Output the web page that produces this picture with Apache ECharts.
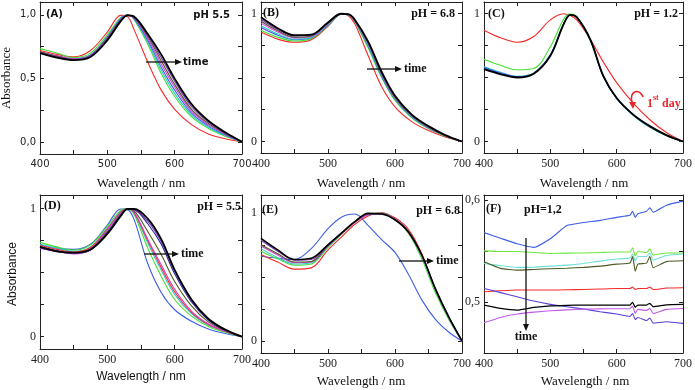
<!DOCTYPE html>
<html>
<head>
<meta charset="utf-8">
<script src="https://cdn.jsdelivr.net/npm/echarts@6/dist/echarts.min.js"></script>
<style>html,body{margin:0;padding:0;background:#fff}#main{width:695px;height:390px}</style>
</head>
<body>
<div id="main"></div>
<script>
// wavelengths (nm)
var wl  = [400,425,450,475,500,520,530,540,560,580,600,625,650,675,700];
var wlE = [400,425,450,475,500,520,540,560,580,600,620,640,660,680,700];
var wlF = [400,425,450,475,500,525,550,575,600,620,624,628,632,645,650,655,675,700];
var xLabels = [400,500,600,700];
var xTicks = [400,450,500,550,600,650,700];

// (A) pH 5.5
var aRed     = [0.72,0.69,0.67,0.72,0.865,0.995,0.985,0.88,0.63,0.41,0.26,0.14,0.067,0.03,0.005];
var aGreen   = [0.735,0.70,0.665,0.70,0.845,0.98,1.0,0.96,0.77,0.54,0.36,0.20,0.11,0.05,0.005];
var aCyan    = [0.70,0.675,0.655,0.685,0.83,0.975,0.998,0.965,0.785,0.565,0.385,0.215,0.12,0.055,0.005];
var aBlue    = [0.705,0.675,0.655,0.685,0.825,0.97,0.997,0.97,0.80,0.59,0.41,0.23,0.13,0.06,0.005];
var aMagenta = [0.71,0.68,0.655,0.68,0.82,0.965,0.996,0.975,0.815,0.615,0.435,0.245,0.14,0.065,0.005];
var aOlive   = [0.71,0.675,0.65,0.675,0.815,0.96,0.995,0.98,0.83,0.64,0.455,0.26,0.15,0.07,0.005];
var aPurple  = [0.705,0.67,0.65,0.675,0.81,0.955,0.995,0.982,0.84,0.665,0.48,0.28,0.16,0.075,0.005];
var aBlack   = [0.70,0.665,0.645,0.67,0.80,0.95,0.995,0.985,0.85,0.69,0.50,0.30,0.17,0.08,0.005];

// (B) pH 6.8
var bRed     = [0.855,0.80,0.775,0.795,0.90,0.997,0.985,0.92,0.67,0.43,0.27,0.155,0.085,0.035,0.0];
var bGreen   = [0.87,0.815,0.785,0.805,0.905,0.995,0.99,0.935,0.73,0.50,0.32,0.185,0.10,0.042,0.0];
var bBlue    = [0.89,0.83,0.795,0.81,0.91,0.995,0.99,0.94,0.745,0.51,0.33,0.19,0.105,0.044,0.0];
var bCyan    = [0.905,0.84,0.80,0.815,0.915,0.995,0.99,0.943,0.755,0.52,0.335,0.195,0.108,0.045,0.0];
var bMagenta = [0.925,0.855,0.81,0.82,0.92,0.995,0.992,0.946,0.765,0.525,0.34,0.2,0.11,0.046,0.0];
var bOlive   = [0.94,0.865,0.815,0.825,0.925,0.996,0.993,0.948,0.77,0.53,0.345,0.203,0.113,0.047,0.0];
var bPurple  = [0.955,0.875,0.825,0.83,0.93,0.997,0.994,0.95,0.775,0.535,0.35,0.207,0.116,0.048,0.0];
var bBlack   = [0.97,0.885,0.83,0.835,0.93,0.998,0.995,0.952,0.78,0.545,0.357,0.21,0.12,0.05,0.0];

// (C) pH 1.2
var cRed     = [0.87,0.81,0.775,0.82,0.95,0.998,0.985,0.95,0.80,0.62,0.46,0.30,0.17,0.07,0.0];
var cGreen   = [0.643,0.595,0.56,0.57,0.74,0.955,0.995,0.975,0.79,0.51,0.34,0.205,0.11,0.045,0.0];
var cCyan    = [0.585,0.54,0.51,0.535,0.68,0.92,0.99,0.972,0.795,0.505,0.335,0.205,0.112,0.046,0.0];
var cBlue    = [0.58,0.535,0.507,0.532,0.675,0.918,0.99,0.972,0.797,0.507,0.337,0.207,0.115,0.047,0.0];
var cNavy    = [0.57,0.53,0.503,0.53,0.67,0.916,0.99,0.971,0.80,0.51,0.34,0.21,0.118,0.048,0.0];
var cBlack   = [0.565,0.525,0.50,0.53,0.67,0.915,0.99,0.97,0.80,0.51,0.34,0.21,0.12,0.05,0.0];

// (D) pH 5.5
var dBlue    = [0.714,0.69,0.68,0.72,0.87,0.995,0.99,0.91,0.57,0.345,0.21,0.12,0.06,0.025,0.0];
var dGreen   = [0.735,0.70,0.675,0.715,0.86,0.985,0.998,0.95,0.69,0.47,0.29,0.16,0.08,0.035,0.0];
var dCyan    = [0.72,0.69,0.665,0.70,0.845,0.975,0.998,0.96,0.73,0.52,0.33,0.18,0.09,0.04,0.0];
var dRed     = [0.71,0.68,0.66,0.695,0.84,0.97,0.998,0.965,0.75,0.54,0.35,0.19,0.095,0.042,0.0];
var dMagenta = [0.69,0.665,0.645,0.685,0.835,0.965,0.998,0.97,0.76,0.56,0.37,0.20,0.10,0.045,0.0];
var dOlive   = [0.70,0.67,0.65,0.68,0.82,0.955,0.995,0.98,0.82,0.64,0.43,0.24,0.115,0.05,0.0];
var dNavy    = [0.70,0.67,0.65,0.675,0.81,0.95,0.995,0.99,0.88,0.72,0.49,0.27,0.13,0.052,0.0];
var dPurple  = [0.69,0.665,0.648,0.675,0.805,0.945,0.995,0.99,0.90,0.74,0.51,0.28,0.135,0.054,0.0];
var dBlack   = [0.70,0.665,0.655,0.68,0.80,0.94,0.995,0.995,0.92,0.76,0.52,0.29,0.14,0.055,0.0];

// (E) pH 6.8
var eBlue    = [0.66,0.645,0.635,0.72,0.875,0.965,0.99,0.90,0.79,0.69,0.52,0.32,0.17,0.07,0.0];
var eRed     = [0.675,0.615,0.56,0.57,0.71,0.81,0.91,0.975,1.0,0.96,0.87,0.68,0.40,0.18,0.0];
var eGreen   = [0.70,0.64,0.59,0.60,0.73,0.83,0.925,0.985,0.995,0.95,0.84,0.64,0.38,0.17,0.0];
var eCyan    = [0.72,0.65,0.60,0.61,0.735,0.835,0.925,0.985,0.995,0.95,0.85,0.66,0.40,0.18,0.0];
var eMagenta = [0.74,0.67,0.61,0.615,0.74,0.835,0.925,0.985,0.995,0.95,0.85,0.665,0.405,0.185,0.0];
var eOlive   = [0.75,0.68,0.615,0.62,0.745,0.84,0.93,0.99,0.995,0.945,0.85,0.67,0.41,0.19,0.0];
var ePurple  = [0.785,0.70,0.63,0.635,0.75,0.84,0.93,0.99,0.99,0.945,0.85,0.67,0.41,0.19,0.0];
var eBlack   = [0.80,0.71,0.635,0.645,0.75,0.84,0.93,0.995,0.99,0.945,0.85,0.67,0.41,0.19,0.0];

// (F) pH 1.2 (absolute absorbance)
var fBlue    = [0.568,0.5625,0.557,0.5535,0.562,0.575,0.578,0.580,0.583,0.585,0.589,0.583,0.5865,0.589,0.5925,0.588,0.595,0.599];
var fGreen   = [0.550,0.5495,0.5495,0.5485,0.5475,0.5478,0.548,0.5485,0.549,0.549,0.553,0.545,0.5495,0.5485,0.552,0.546,0.548,0.548];
var fCyan    = [0.5377,0.5355,0.5338,0.534,0.535,0.536,0.5377,0.540,0.542,0.543,0.547,0.540,0.5445,0.5445,0.548,0.541,0.5455,0.5469];
var fOlive   = [0.5393,0.5328,0.5311,0.5318,0.5325,0.533,0.5338,0.535,0.537,0.538,0.5445,0.530,0.537,0.538,0.5445,0.5335,0.5395,0.5403];
var fRed     = [0.5098,0.5108,0.5115,0.5115,0.5115,0.5118,0.512,0.5125,0.513,0.513,0.5145,0.512,0.513,0.513,0.5145,0.512,0.5135,0.5138];
var fNavy    = [0.5131,0.509,0.5049,0.5007,0.4974,0.4951,0.4928,0.4902,0.4879,0.4855,0.4885,0.4825,0.4845,0.4815,0.484,0.479,0.4803,0.4787];
var fBlack   = [0.4967,0.4934,0.4918,0.4944,0.496,0.4965,0.4967,0.4967,0.4967,0.4967,0.4995,0.4945,0.4967,0.4967,0.4985,0.495,0.497,0.4974];
var fMagenta = [0.4793,0.4846,0.4879,0.4898,0.4911,0.492,0.4928,0.493,0.4931,0.4931,0.4955,0.4885,0.4925,0.4915,0.4935,0.4885,0.4925,0.4934];

var C = {
  red:'#f42a2a', green:'#44e033', cyan:'#33c6c6', blue:'#3d5de6', magenta:'#d83ed8',
  olive:'#4d5a22', navy:'#26269a', purple:'#7a2fb8', black:'#000000',
  violet:'#5a3fd6', lilac:'#c25ae6', aqua:'#6ee0d8', lime:'#6ee83a'
};

var serif = '"Liberation Serif", "DejaVu Serif", serif';
var sans = '"DejaVu Sans", Verdana, sans-serif';
var comma = function (v) { return v.toFixed(1).replace('.', ','); };
var plain = function (v) { return String(Math.round(v)); };

var panels = [
  { box:[40,2,202,152], y:[-0.09,1.1], yl:[0,0.5,1], yt:[0,0.25,0.5,0.75,1], fmt:comma, font:sans, fs:10, bw:1.8,
    x:wl, lines:[[aRed,C.red],[aGreen,C.green],[aCyan,C.cyan],[aBlue,C.blue],[aMagenta,C.magenta],[aOlive,C.olive],[aPurple,C.purple],[aBlack,C.black]] },
  { box:[261,2,201,151], y:[-0.09,1.09], yl:[0,1], yt:[0,0.25,0.5,0.75,1], fmt:plain, font:serif, fs:12, bw:1.8,
    x:wl, lines:[[bRed,C.red],[bGreen,C.green],[bBlue,C.blue],[bCyan,C.cyan],[bMagenta,C.magenta],[bOlive,C.olive],[bPurple,C.purple],[bBlack,C.black]] },
  { box:[484,2,201,151], y:[-0.09,1.09], yl:[0,1], yt:[0,0.25,0.5,0.75,1], fmt:plain, font:serif, fs:12, bw:1.8,
    x:wl, lines:[[cRed,C.red],[cGreen,C.green],[cCyan,C.cyan],[cBlue,C.blue],[cNavy,C.navy],[cBlack,C.black]] },
  { box:[40,195,202,154], y:[-0.096,1.104], yl:[0,1], yt:[0,0.25,0.5,0.75,1], fmt:plain, font:serif, fs:12, bw:1.8,
    x:wl, lines:[[dBlue,C.blue],[dGreen,C.green],[dCyan,C.cyan],[dRed,C.red],[dMagenta,C.magenta],[dOlive,C.olive],[dNavy,C.navy],[dPurple,C.purple],[dBlack,C.black]] },
  { box:[261,195,201,158], y:[-0.094,1.138], yl:[0,1], yt:[0,0.25,0.5,0.75,1], fmt:plain, font:serif, fs:12, bw:1.6,
    x:wlE, lines:[[eBlue,C.blue],[eRed,C.red],[eGreen,C.green],[eCyan,C.cyan],[eMagenta,C.magenta],[eOlive,C.olive],[ePurple,C.purple],[eBlack,C.black]] },
  { box:[484,195,202,158], y:[0.4496,0.605], yl:[0.5,0.6], yt:[0.5,0.55,0.6], fmt:comma, font:serif, fs:12, bw:1.2,
    x:wlF, lines:[[fBlue,C.blue],[fGreen,C.lime],[fCyan,C.aqua],[fOlive,C.olive],[fRed,C.red],[fNavy,C.violet],[fBlack,C.black],[fMagenta,C.lilac]] }
];

var grid = [], xAxis = [], yAxis = [], series = [];
panels.forEach(function (p, gi) {
  grid.push({ left:p.box[0], top:p.box[1], width:p.box[2], height:p.box[3], show:false });
  var tick = { show:true, inside:true, length:4, lineStyle:{ color:'#222', width:1 } };
  var line = { show:true, onZero:false, lineStyle:{ color:'#222', width:1 } };
  var lab = { color:'#222', fontFamily:p.font, fontSize:p.fs };
  xAxis.push({ gridIndex:gi, type:'value', min:400, max:700, position:'bottom',
    axisLine:line, splitLine:{ show:false },
    axisTick:Object.assign({ customValues:xTicks }, tick),
    axisLabel:Object.assign({ customValues:xLabels, margin:5 }, lab) });
  xAxis.push({ gridIndex:gi, type:'value', min:400, max:700, position:'top',
    axisLine:line, splitLine:{ show:false }, axisLabel:{ show:false },
    axisTick:Object.assign({ customValues:xTicks }, tick) });
  yAxis.push({ gridIndex:gi, type:'value', min:p.y[0], max:p.y[1], position:'left',
    axisLine:line, splitLine:{ show:false },
    axisTick:Object.assign({ customValues:p.yt }, tick),
    axisLabel:Object.assign({ customValues:p.yl, margin:4, formatter:p.fmt }, lab) });
  yAxis.push({ gridIndex:gi, type:'value', min:p.y[0], max:p.y[1], position:'right',
    axisLine:line, splitLine:{ show:false }, axisLabel:{ show:false },
    axisTick:Object.assign({ customValues:p.yt }, tick) });
  p.lines.forEach(function (l, k) {
    var ys = l[0], col = l[1];
    series.push({
      type:'line', xAxisIndex:gi * 2, yAxisIndex:gi * 2,
      data:p.x.map(function (x, i) { return [x, ys[i]]; }),
      showSymbol:false, smooth:gi === 5 ? 0.15 : 0.35, silent:true,
      lineStyle:{ color:col, width:col === C.black ? p.bw : 1.1 },
      itemStyle:{ color:col }, z:2 + k
    });
  });
});

// annotations
function txt(x, y, s, font, opt) {
  opt = opt || {};
  return { type:'text', x:x, y:y, rotation:opt.rot || 0, z:100,
    style:{ text:s, font:font, fill:opt.fill || '#111', align:opt.align || 'left', verticalAlign:'middle' } };
}
function hArrow(x1, x2, y) {
  return [
    { type:'line', z:100, shape:{ x1:x1, y1:y, x2:x2 - 4, y2:y }, style:{ stroke:'#111', lineWidth:1.3 } },
    { type:'polygon', z:100, shape:{ points:[[x2, y], [x2 - 7, y - 3], [x2 - 7, y + 3]] }, style:{ fill:'#111' } }
  ];
}
var sb10 = 'bold 10px ' + sans, fb12 = 'bold 12px ' + serif;
var nameSerif = '13px ' + serif, nameSans = '12px "Liberation Sans", Arial, sans-serif';

var graphic = [
  txt(141, 184, 'Wavelength / nm', nameSerif, { align:'center' }),
  txt(361, 184, 'Wavelength / nm', nameSerif, { align:'center' }),
  txt(584, 184, 'Wavelength / nm', nameSerif, { align:'center' }),
  txt(141, 377, 'Wavelength / nm', nameSans, { align:'center' }),
  txt(361, 382, 'Wavelength / nm', nameSerif, { align:'center' }),
  txt(585, 382, 'Wavelength / nm', nameSerif, { align:'center' }),
  txt(7, 78, 'Absorbance', nameSerif, { align:'center', rot:Math.PI / 2 }),
  txt(13, 274, 'Absorbance', nameSans, { align:'center', rot:Math.PI / 2 }),

  txt(46, 14, '(A)', sb10), txt(230, 15, 'pH 5.5', sb10, { align:'right' }),
  txt(263, 13, '(B)', fb12), txt(455, 14, 'pH = 6.8', fb12, { align:'right' }),
  txt(488, 14, '(C)', fb12), txt(678, 14, 'pH = 1.2', fb12, { align:'right' }),
  txt(44, 206, '(D)', fb12), txt(241, 207, 'pH = 5.5', fb12, { align:'right' }),
  txt(262, 210, '(E)', fb12), txt(460, 211, 'pH = 6.8', fb12, { align:'right' }),
  txt(486, 209, '(F)', fb12), txt(524, 210, 'pH=1,2', fb12),

  txt(183, 62, 'time', sb10), txt(404, 69, 'time', fb12),
  txt(181, 254, 'time', fb12), txt(436, 261, 'time', fb12),
  txt(526, 337, 'time', fb12, { align:'center' }),
  { type:'line', z:100, shape:{ x1:526, y1:238, x2:526, y2:325 }, style:{ stroke:'#111', lineWidth:1.3 } },
  { type:'polygon', z:100, shape:{ points:[[526, 331], [523, 324], [529, 324]] }, style:{ fill:'#111' } },

  txt(647, 104, '1', 'bold 12px ' + serif, { fill:'#e8262b' }),
  txt(653, 98, 'st', 'bold 8px ' + serif, { fill:'#e8262b' }),
  txt(662, 104, 'day', 'bold 12px ' + serif, { fill:'#e8262b' }),
  { type:'bezierCurve', z:100, shape:{ x1:643, y1:97, cpx1:640, cpy1:88, cpx2:629, cpy2:90, x2:632, y2:103 },
    style:{ stroke:'#e8262b', lineWidth:1.6, fill:null } },
  { type:'polygon', z:100, shape:{ points:[[633, 109], [629, 102], [636, 102]] }, style:{ fill:'#e8262b' } }
];
graphic = graphic.concat(hArrow(146, 182, 62), hArrow(367, 402, 69), hArrow(144, 179, 254), hArrow(399, 434, 261));

var chart = echarts.init(document.getElementById('main'));
chart.setOption({
  animation:false,
  backgroundColor:'#fff',
  grid:grid, xAxis:xAxis, yAxis:yAxis, series:series, graphic:graphic
});
</script>
</body>
</html>
